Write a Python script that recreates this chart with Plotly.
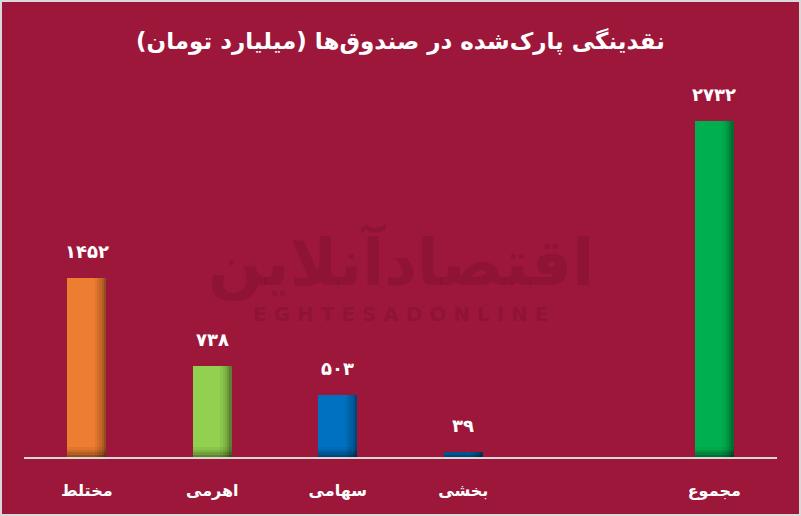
import plotly.graph_objects as go

categories = ["مختلط", "اهرمی", "سهامی", "بخشی", "", "مجموع"]
positions = [0, 1, 2, 3, 5]
values = [1452, 738, 503, 39, 2732]
colors = ["#ED7D31", "#92D050", "#0070C0", "#0070C0", "#00B050"]
title = "نقدینگی پارک\u200cشده در صندوق\u200cها (میلیارد تومان)"

BG = "#9C173A"
FONT = "DejaVu Sans"
W = 0.31

fa_digits = str.maketrans("0123456789", "۰۱۲۳۴۵۶۷۸۹")
def fa(n):
    return str(n).translate(fa_digits)

fig = go.Figure()
fig.add_trace(go.Bar(x=positions, y=values, width=W, offset=-W / 2,
                     marker=dict(color=colors, line=dict(width=0)),
                     hoverinfo="skip", showlegend=False))
# right-edge shading strips (gradient imitation)
strip_ops = [0.05, 0.1, 0.17, 0.26, 0.38]
sw = 0.018
for i, op in enumerate(strip_ops):
    off = W / 2 - sw * (len(strip_ops) - i)
    fig.add_trace(go.Bar(x=positions, y=values, width=sw, offset=off,
                         marker=dict(color=f"rgba(0,0,0,{op})", line=dict(width=0)),
                         hoverinfo="skip", showlegend=False))
# bottom shading strips
bottom_ops = [0.05, 0.08, 0.12, 0.17]
bh = 20
for i, op in enumerate(bottom_ops):
    h = len(bottom_ops) - i
    fig.add_trace(go.Bar(x=positions, y=[min(v, bh * h) for v in values], width=W, offset=-W / 2,
                         marker=dict(color=f"rgba(0,0,0,{op})", line=dict(width=0)),
                         hoverinfo="skip", showlegend=False))

for p, v in zip(positions, values):
    fig.add_annotation(x=p, y=v, text=f"<b>{fa(v)}</b>", showarrow=False,
                       yanchor="bottom", yshift=14,
                       font=dict(family=FONT, size=18, color="white"))

# watermark
fig.add_annotation(x=0.5, y=0.53, xref="paper", yref="paper", text="<b>اقتصادآنلاین</b>",
                   showarrow=False, font=dict(family=FONT, size=64, color="rgba(110,10,40,0.28)"))
fig.add_annotation(x=0.5, y=0.39, xref="paper", yref="paper", text="<b>E G H T E S A D O N L I N E</b>",
                   showarrow=False, font=dict(family=FONT, size=20, color="rgba(110,10,40,0.28)"))

left, right, top, bottom = 24, 24, 90, 59
pw = 801 - left - right
ph = 516 - top - bottom
fig.add_shape(type="rect", xref="paper", yref="paper",
              x0=(1 - left) / pw, x1=(800 - left) / pw,
              y0=-(bottom - 1) / ph, y1=(top + ph - 1) / ph,
              line=dict(color="#D9D9D9", width=2), fillcolor="rgba(0,0,0,0)", layer="above")

fig.update_layout(
    width=801, height=516,
    paper_bgcolor=BG, plot_bgcolor=BG,
    barmode="overlay", bargap=0,
    margin=dict(l=left, r=right, t=top, b=bottom, autoexpand=False),
    title=dict(text=f"<b>{title}</b>", x=0.5, xanchor="center", y=0.921, yanchor="middle",
               font=dict(family=FONT, size=23, color="white")),
    xaxis=dict(range=[-0.5, 5.5], tickvals=list(range(6)), ticktext=[f"<b>{c}</b>" for c in categories],
               showgrid=False, zeroline=False, showline=True, linecolor="#D9D9D9", linewidth=2,
               ticks="outside", ticklen=18, tickcolor="rgba(0,0,0,0)",
               tickfont=dict(family=FONT, size=16, color="white"), fixedrange=True),
    yaxis=dict(range=[0, 2984], visible=False, showgrid=False, zeroline=False, fixedrange=True),
)

fig.write_html("out.html", config={"displayModeBar": False},
               post_script="document.body.style.margin='0';document.body.style.overflow='hidden';")
